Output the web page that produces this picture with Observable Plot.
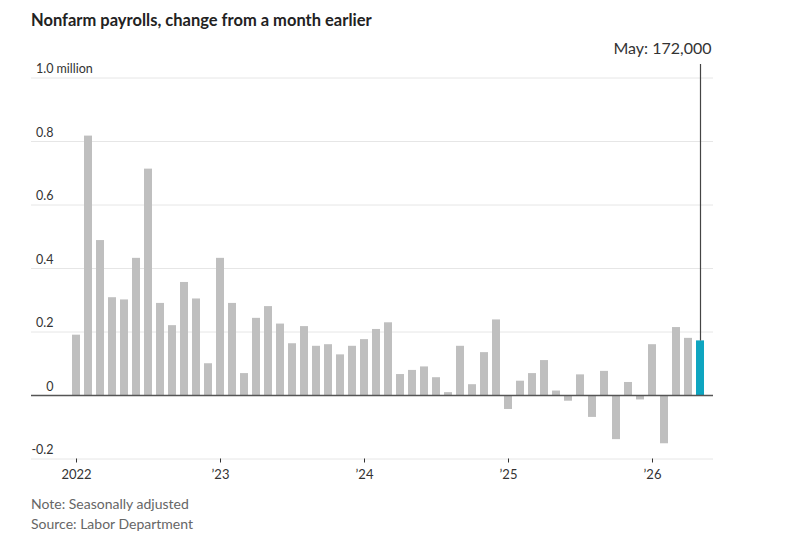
<!DOCTYPE html>
<html><head><meta charset="utf-8">
<script src="https://cdn.jsdelivr.net/npm/d3@7"></script>
<script src="https://cdn.jsdelivr.net/npm/@observablehq/plot@0.6"></script>
<style>
body{margin:0;background:#fff;font-family:Lato, sans-serif;}
#title{margin:9px 0 0 31px;font-size:16.5px;line-height:22px;font-weight:700;color:#222;}
#chart svg{display:block}
.cap{margin-left:31px;font-size:14px;line-height:20px;color:#666;}
</style></head><body>
<div id="title">Nonfarm payrolls, change from a month earlier</div>
<div id="chart"></div>
<div class="cap" style="margin-top:3px">Note: Seasonally adjusted</div>
<div class="cap">Source: Labor Department</div>
<script>
// Monthly change in nonfarm payrolls, millions, Jan 2022 – May 2026
const values = [
  0.190, 0.817, 0.488, 0.308, 0.301, 0.432, 0.713, 0.290, 0.220, 0.356, 0.304, 0.100,
  0.432, 0.290, 0.069, 0.243, 0.280, 0.225, 0.163, 0.217, 0.155, 0.160, 0.128, 0.155,
  0.176, 0.208, 0.229, 0.066, 0.079, 0.090, 0.056, 0.009, 0.155, 0.034, 0.135, 0.238,
  -0.044, 0.045, 0.069, 0.110, 0.014, -0.018, 0.065, -0.069, 0.076, -0.139, 0.041, -0.014,
  0.160, -0.152, 0.214, 0.180, 0.172
];
const months = d3.utcMonth.range(new Date(Date.UTC(2022, 0, 1)), new Date(Date.UTC(2026, 5, 1)));
const xTickLabels = ["2022", "\u201923", "\u201924", "\u201925", "\u201926"];
const xTickValues = xTickLabels.map((_, k) => k * 12);
const yTickValues = [1.0, 0.8, 0.6, 0.4, 0.2, 0, -0.2];
const yTickLabels = ["1.0", "0.8", "0.6", "0.4", "0.2", "0", "-0.2"];
const yUnit = "million";

const data = values.map((v, i) => ({i, v, date: months[i], last: i === values.length - 1}));
const lastD = data[data.length - 1];

const plot = Plot.plot({
  width: 799, height: 460,
  marginTop: 46.5, marginBottom: 32.5, marginLeft: 31, marginRight: 86,
  x: {type: "linear", domain: [-3.75, 53.083], axis: null},
  y: {domain: [-0.2, 1.0], axis: null},
  style: {fontFamily: "Lato, sans-serif", background: "#fff", overflow: "visible"},
  marks: [
    Plot.ruleY(yTickValues.filter(d => d !== 0), {stroke: "#e6e6e6", strokeWidth: 1}),
    Plot.rectY(data, {x1: d => d.i - 1/3, x2: d => d.i + 1/3, y1: 0, y2: "v",
      fill: d => d.last ? "#0ea5c0" : "#bfbfbf"}),
    Plot.ruleY([0], {stroke: "#555", strokeWidth: 1.5}),
    Plot.ruleX([lastD], {x: "i", y1: () => 1.0, y2: "v", insetTop: -13.5, stroke: "#444", strokeWidth: 1.2}),
    Plot.text([lastD], {x: "i", y: () => 1.0,
      text: d => `${d3.utcFormat("%b")(d.date)}: ${d3.format(",")(Math.round(d.v * 1e6))}`,
      textAnchor: "end", dx: 11, dy: -29.5, lineAnchor: "middle", fontSize: 16, fill: "#333"}),
    Plot.text(yTickValues, {y: d => d, text: (d, i) => yTickLabels[i], frameAnchor: "left",
      textAnchor: "end", dx: 22, dy: -5, lineAnchor: "bottom", fontSize: 12.5, fill: "#333"}),
    Plot.text([yTickValues[0]], {y: d => d, text: () => yUnit, frameAnchor: "left",
      textAnchor: "start", dx: 25, dy: -5, lineAnchor: "bottom", fontSize: 12.5, fill: "#333"}),
    Plot.axisX({ticks: xTickValues, tickFormat: d => xTickLabels[xTickValues.indexOf(d)],
      tickSize: 4, tickPadding: 7, fontSize: 13, color: "#333", anchor: "bottom", label: null})
  ]
});
document.getElementById("chart").appendChild(plot);
</script>
</body></html>
